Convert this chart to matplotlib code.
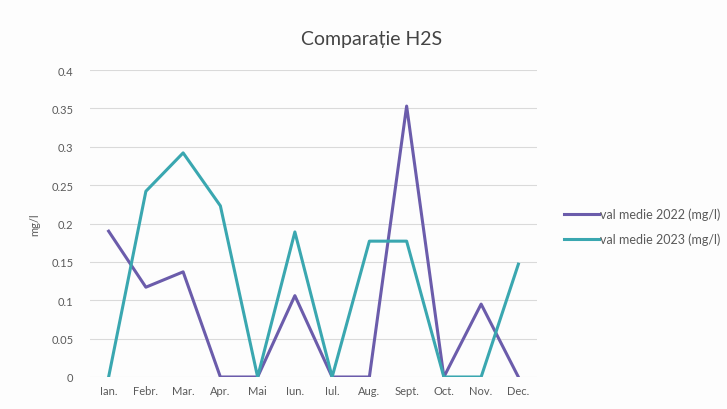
import matplotlib.pyplot as plt

# monthly mean H2S values (mg/l)
months = ["Ian.", "Febr.", "Mar.", "Apr.", "Mai", "Iun.", "Iul.", "Aug.", "Sept.", "Oct.", "Nov.", "Dec."]
val_2022 = [0.19, 0.117, 0.137, 0, 0, 0.106, 0, 0, 0.353, 0, 0.095, 0]
val_2023 = [0, 0.242, 0.292, 0.223, 0, 0.189, 0, 0.177, 0.177, 0, 0, 0.147]
yticks = [0, 0.05, 0.1, 0.15, 0.2, 0.25, 0.3, 0.35, 0.4]
ytick_labels = ["0", "0.05", "0.1", "0.15", "0.2", "0.25", "0.3", "0.35", "0.4"]

plt.rcParams['font.family'] = ['Lato', 'DejaVu Sans']
txt = "#5a5a5a"

fig = plt.figure(figsize=(7.27, 4.10), dpi=100)
fig.patch.set_facecolor("#fdfdfd")
ax = fig.add_axes([90/727, 1-378/410, (537-90)/727, (378-71)/410])
ax.set_facecolor("#fdfdfd")

x = list(range(len(months)))
ax.plot(x, val_2022, color="#6b5cab", lw=2.2, label="val medie 2022 (mg/l)")
ax.plot(x, val_2023, color="#3aa7b0", lw=2.2, label="val medie 2023 (mg/l)")

ax.set_xlim(-0.5, len(months)-0.5)
ax.set_ylim(0, 0.4)
ax.set_yticks(yticks)
ax.set_yticklabels(ytick_labels)
ax.set_xticks(x)
ax.set_xticklabels(months)
ax.tick_params(axis="both", length=0, labelsize=8, colors=txt)
ax.tick_params(axis="y", pad=12)
ax.tick_params(axis="x", pad=6)
ax.grid(axis="y", color="#dadada", lw=0.8)
ax.set_axisbelow(True)
for s in ax.spines.values():
    s.set_visible(False)

ax.set_ylabel("mg/l", fontsize=8, color=txt, labelpad=8)
fig.text(372/727, 1-40/410, "Comparație H2S", ha="center", va="center", fontsize=14, color="#444444")

ax.legend(loc="center left", bbox_to_anchor=(1.035, 0.49), frameon=False, fontsize=9,
          labelcolor=txt, handlelength=2.8, handletextpad=0.1, labelspacing=1.0)

plt.savefig("out.png", dpi=100, facecolor=fig.get_facecolor())
